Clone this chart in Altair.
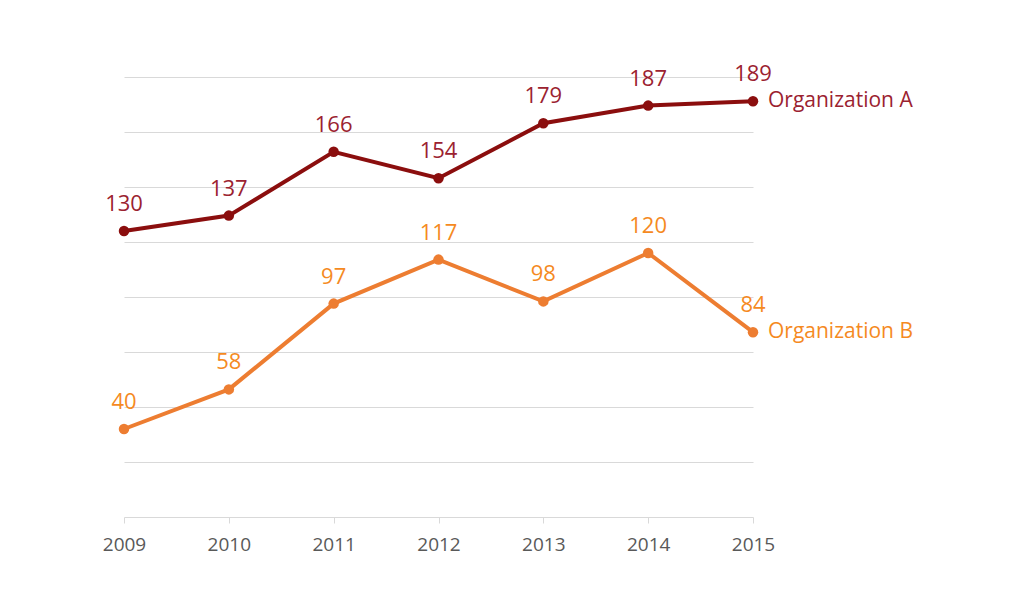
import altair as alt
import pandas as pd

years = [2009, 2010, 2011, 2012, 2013, 2014, 2015]
org_a = [130, 137, 166, 154, 179, 187, 189]
org_b = [40, 58, 97, 117, 98, 120, 84]
series_names = ["Organization A", "Organization B"]
line_colors = ["#8B0E0E", "#ED7D31"]
text_colors = ["#9B2230", "#F58A1F"]

rows = []
for name, vals in zip(series_names, [org_a, org_b]):
    for y, v in zip(years, vals):
        rows.append({"year": y, "value": v, "series": name})
df = pd.DataFrame(rows)
last = df[df["year"] == years[-1]]

FONT = "Open Sans"
x = alt.X("year:Q", scale=alt.Scale(domain=[2009, 2015], nice=False, zero=False),
          axis=alt.Axis(values=years, format="d", title=None, grid=False,
                        domainColor="#d9d9d9", tickColor="#d9d9d9", tickSize=6,
                        labelFont=FONT, labelFontSize=19, labelColor="#595959",
                        labelPadding=12, labelFlush=False))
y = alt.Y("value:Q", scale=alt.Scale(domain=[0, 200], nice=False),
          axis=alt.Axis(values=[25, 50, 75, 100, 125, 150, 175, 200], title=None,
                        labels=False, ticks=False, domain=False,
                        gridColor="#d9d9d9", gridWidth=1))
lc = alt.Color("series:N", scale=alt.Scale(domain=series_names, range=line_colors), legend=None)
tc = alt.Color("series:N", scale=alt.Scale(domain=series_names, range=text_colors), legend=None)

base = alt.Chart(df)
lines = base.mark_line(strokeWidth=4).encode(x=x, y=y, color=lc, detail="series:N")
points = base.mark_point(filled=True, size=110, opacity=1).encode(x=x, y=y, color=lc)
vals = base.mark_text(font=FONT, fontSize=22, dy=-27, baseline="middle").encode(
    x=x, y=y, text="value:Q", color=tc)
names = alt.Chart(last).mark_text(font=FONT, fontSize=21, dx=15, align="left",
                                  baseline="middle").encode(
    x=x, y=y, text="series:N", color=tc)

chart = alt.layer(lines, points, vals, names).resolve_scale(color="independent").properties(
    width=629, height=440,
    autosize=alt.AutoSizeParams(type="none"),
    padding={"left": 116, "top": 69, "right": 200, "bottom": 60},
    background="white",
).configure_view(stroke=None)

chart.save("out.html", embed_options={"renderer": "svg", "actions": False})
